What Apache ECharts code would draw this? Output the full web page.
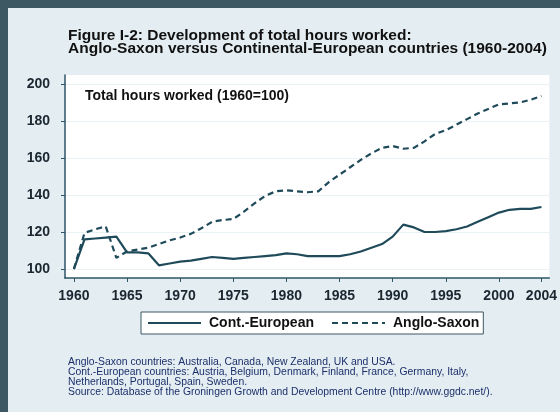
<!DOCTYPE html>
<html>
<head>
<meta charset="utf-8">
<script src="https://cdn.jsdelivr.net/npm/echarts@6/dist/echarts.min.js"></script>
<style>
html,body{margin:0;padding:0;background:#e4eef2;}
#c{width:560px;height:412px;}
</style>
</head>
<body>
<div id="c"></div>
<script>
const years = [];
for (let y = 1960; y <= 2004; y++) years.push(y);
const contEuropean = [100,116,116.5,117,117.5,109,109,108.5,102,103,104,104.5,105.5,106.5,106,105.5,106,106.5,107,107.5,108.5,108,107,107,107,107,108,109.5,111.5,113.5,117.5,124,122.5,120,120,120.5,121.5,123,125.5,128,130.5,132,132.5,132.5,133.5];
const angloSaxon = [100,119.5,121.5,123,106,109.5,110.5,111.5,113.5,115.5,117,119,122,125.5,126.5,127,131,135.5,139.5,142,142.5,142,141.5,142,147,151,155,159,162.5,165.5,166.5,165,165.5,169,173,175,178,181,184,186.5,189,189.5,190,191.5,193.5];
const xTicks = [1960,1965,1970,1975,1980,1985,1990,1995,2000,2004];
const yTicks = [100,120,140,160,180,200];
const seriesNames = ['Cont.-European','Anglo-Saxon'];
const titleLines = ['Figure I-2: Development of total hours worked:','Anglo-Saxon versus Continental-European countries (1960-2004)'];
const innerLabel = 'Total hours worked (1960=100)';
const noteLines = [
 'Anglo-Saxon countries: Australia, Canada, New Zealand, UK and USA.',
 'Cont.-European countries: Austria, Belgium, Denmark, Finland, France, Germany, Italy,',
 'Netherlands, Portugal, Spain, Sweden.',
 'Source: Database of the Groningen Growth and Development Centre (http://www.ggdc.net/).'
];

const FONT = 'Liberation Sans, Arial, sans-serif';
const lineColor = '#1f4a5a';
const chart = echarts.init(document.getElementById('c'), null, {renderer:'canvas'});
chart.setOption({
  backgroundColor: '#e4eef2',
  animation: false,
  graphic: [
    {type:'rect', left:0, top:0, shape:{width:8,height:412}, style:{fill:'#3d5763'}, z:-1},
    {type:'rect', left:0, top:0, shape:{width:560,height:8}, style:{fill:'#3d5763'}, z:-1}
  ],
  title: [
    {text: titleLines.join('\n'), left:63, top:23.5,
     textStyle:{fontFamily:FONT, fontSize:15.5, fontWeight:'bold', color:'#111', lineHeight:13.5}},
    {text: innerLabel, left:80, top:84,
     textStyle:{fontFamily:FONT, fontSize:14, fontWeight:'bold', color:'#111'}},
    {text: noteLines.join('\n'), left:63, top:351.5,
     textStyle:{fontFamily:FONT, fontSize:10.4, fontWeight:'normal', color:'#1c2f6a', lineHeight:10.3}}
  ],
  legend: {
    data: seriesNames, left:141, top:312,
    backgroundColor:'#ffffff', borderColor:'#3d5763', borderWidth:1,
    padding:[4,4,4,6], itemGap:17, itemWidth:53, itemHeight:13,
    itemStyle:{opacity:0},
    textStyle:{fontFamily:FONT, fontSize:14, fontWeight:'bold', color:'#111', padding:[0,0,0,3]}
  },
  grid: {left:65, right:5, top:75, bottom:134, show:true, backgroundColor:'#ffffff', borderWidth:0},
  xAxis: {
    type:'value', min:1959.163, max:2004.744,
    axisLine:{show:true, lineStyle:{color:'#2d5566', width:1.5}},
    axisTick:{show:true, length:4, customValues:xTicks, lineStyle:{color:'#2d5566'}},
    axisLabel:{customValues:xTicks, formatter:(v)=>String(v), fontFamily:FONT, fontSize:14, fontWeight:'bold', color:'#1a2630', margin:11},
    splitLine:{show:false}
  },
  yAxis: {
    type:'value', min:95.15, max:204.85,
    axisLine:{show:true, lineStyle:{color:'#2d5566', width:1.5}},
    axisTick:{show:true, length:4, customValues:yTicks, lineStyle:{color:'#2d5566'}},
    axisLabel:{customValues:yTicks, formatter:(v)=>String(v), fontFamily:FONT, fontSize:14, fontWeight:'bold', color:'#1a2630', margin:15},
    splitLine:{show:true, lineStyle:{color:'#e9f1f5', width:1}}
  },
  series: [
    {name:seriesNames[0], type:'line', symbol:'none', data: years.map((y,i)=>[y, contEuropean[i]]),
     lineStyle:{color:lineColor, width:2.2}, itemStyle:{color:lineColor}},
    {name:seriesNames[1], type:'line', symbol:'none', data: years.map((y,i)=>[y, angloSaxon[i]]),
     lineStyle:{color:lineColor, width:2.2, type:[6,4]}, itemStyle:{color:lineColor}}
  ]
});
</script>
</body>
</html>
